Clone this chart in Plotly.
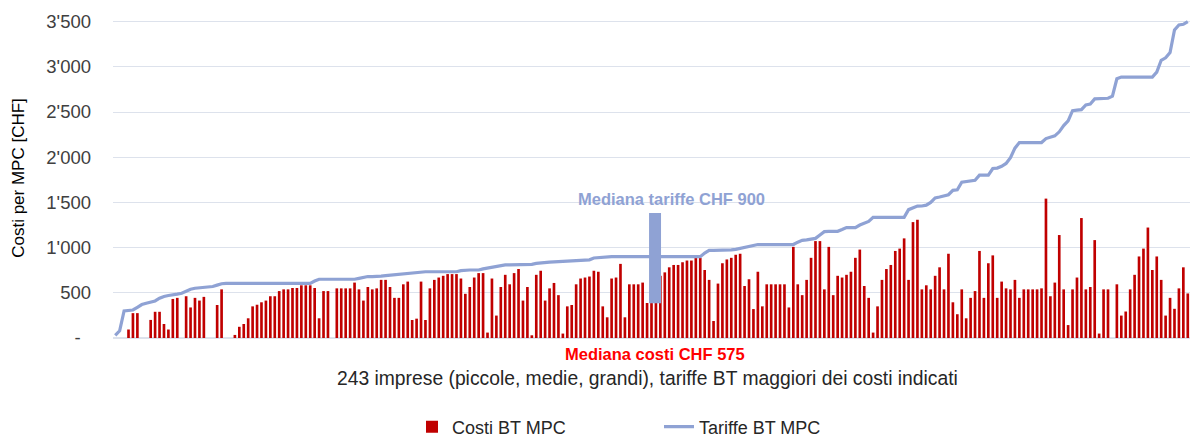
import plotly.graph_objects as go

# ---------------- data ----------------
costs = [
    0, 0, 0, 94, 275, 275, 0, 0, 200, 290, 290, 155, 94, 432, 444, 0, 462, 338, 444, 414,
    455, 0, 0, 365, 538, 0, 0, 34, 124, 155,
    218, 350, 368, 395, 414, 462, 462, 519, 538, 538, 553, 553, 583, 583, 583, 553, 218, 519, 519, 0,
    549, 549, 549, 549, 613, 538, 414, 564, 538, 549,
    643, 643, 564, 444, 444, 594, 624, 199, 214, 624, 199, 549, 643, 669, 688, 707, 707, 707, 658, 489,
    564, 669, 718, 718, 60, 658, 248, 564, 699, 594, 718,
    763, 414, 564, 30, 699, 744, 414, 549, 609, 474, 49, 350, 365, 594, 658, 669, 680, 744, 733, 350,
    229, 658, 669, 820, 229, 594, 594, 594, 613, 387, 387,
    387, 688, 726, 782, 808, 808, 838, 857, 857, 887, 887, 752, 643, 188, 602, 827, 869, 887, 921, 932,
    575, 650, 320, 733, 350, 594, 594, 594, 594, 594,
    338, 1008, 594, 474, 643, 887, 1072, 1072, 538, 1008, 474, 688, 669, 699, 733, 887, 978, 575, 444, 60,
    350, 643, 763, 808, 963, 989, 1102, 643, 1282, 1308, 538,
    583, 538, 688, 782, 538, 932, 395, 263, 538, 218, 444, 519, 963, 444, 827, 914, 444, 624, 549, 538,
    643, 444, 538, 538, 538, 538, 549, 1542, 462, 613,
    1139, 538, 143, 538, 669, 1327, 538, 564, 1083, 49, 538, 538, 0, 594, 248, 293, 538, 699, 902, 989,
    1222, 752, 902, 643, 248, 444, 323, 549, 782, 493,
]

tariffs = [
    30, 80, 300, 305, 310, 340, 370, 385, 400, 410, 440, 460, 470, 475, 485, 495, 520, 540, 550, 556,
    560, 565, 570, 585, 600, 605, 605, 605, 605, 605, 605, 605, 605, 605, 605, 605, 605, 605, 605, 605,
    605, 605, 605, 605, 605, 630, 650, 650, 650, 650, 650, 650, 650, 650, 650, 660, 670, 680, 680, 680,
    685, 690, 695, 700, 705, 707, 715, 720, 728, 733, 733, 733, 733, 733, 733, 733, 733, 733, 745, 752,
    752, 752, 752, 765, 775, 782, 790, 800, 808, 808, 808, 808, 810, 812, 815, 825, 832, 838, 840, 842,
    845, 848, 850, 852, 855, 858, 860, 865, 885, 890, 895, 898, 900, 900, 900, 900, 900, 900, 900, 900,
    900, 900, 900, 900, 900, 900, 900, 900, 900, 900, 900, 900, 900, 940, 970, 970, 970, 970, 970, 975,
    980, 990, 1005, 1015, 1025, 1034, 1034, 1034, 1034, 1034, 1034, 1034, 1034, 1034, 1060, 1080, 1085, 1095, 1102, 1140,
    1177, 1180, 1180, 1180, 1200, 1222, 1222, 1222, 1250, 1270, 1290, 1335, 1335, 1335, 1335, 1335, 1335, 1335, 1335, 1420,
    1440, 1459, 1460, 1470, 1500, 1550, 1560, 1570, 1585, 1634, 1640, 1723, 1730, 1740, 1745, 1801, 1801, 1801, 1875, 1880,
    1900, 1931, 1994, 2100, 2162, 2162, 2162, 2162, 2162, 2162, 2206, 2220, 2236, 2281, 2350, 2403, 2515, 2520, 2526, 2578,
    2589, 2645, 2648, 2650, 2652, 2675, 2868, 2887, 2887, 2887, 2887, 2887, 2887, 2887, 2887, 2942, 3072, 3100, 3158, 3407,
    3463, 3470, 3500,
]

companies = list(range(1, len(costs) + 1))

y_tick_values = [0, 500, 1000, 1500, 2000, 2500, 3000, 3500]
y_tick_labels = ["-\u00a0\u00a0", "500", "1'000", "1'500", "2'000", "2'500", "3'000", "3'500"]

median_cost = 575
median_tariff = 900
median_index = 122.8  # company position of the median marker

assert len(costs) == 243 and len(tariffs) == 243, (len(costs), len(tariffs))

# ---------------- figure ----------------
BAR_RED = "#C00000"
LINE_BLUE = "#8FA2D4"
GRID = "#DDE2EC"
FONT = "Liberation Sans, Arial, sans-serif"

fig = go.Figure()
fig.add_trace(go.Bar(
    x=companies, y=costs, name="Costi BT MPC",
    marker=dict(color=BAR_RED, line=dict(width=0)),
))
fig.add_trace(go.Scatter(
    x=companies, y=tariffs, name="Tariffe BT MPC", mode="lines",
    line=dict(color=LINE_BLUE, width=3.2),
))

# median tariff marker (vertical band)
fig.add_shape(type="rect", xref="x", yref="y",
              x0=median_index - 1.35, x1=median_index + 1.35, y0=385, y1=1383,
              fillcolor=LINE_BLUE, line=dict(width=0), layer="above")

fig.add_annotation(x=median_index + 3.6, y=1540, xref="x", yref="y",
                   text=f"<b>Mediana tariffe CHF {median_tariff}</b>", showarrow=False,
                   font=dict(family=FONT, size=16.5, color=LINE_BLUE), xanchor="center", yanchor="middle")

fig.add_annotation(x=median_index, y=-0.05, xref="x", yref="paper",
                   text=f"<b>Mediana costi CHF {median_cost}</b>", showarrow=False,
                   font=dict(family=FONT, size=16.5, color="#FF0000"), xanchor="center", yanchor="middle")

fig.add_annotation(x=0.4967, y=-0.125, xref="paper", yref="paper",
                   text="243 imprese (piccole, medie, grandi), tariffe BT maggiori dei costi indicati",
                   showarrow=False, font=dict(family=FONT, size=19.3, color="#262626"),
                   xanchor="center", yanchor="middle")

fig.update_layout(
    width=1191, height=437,
    margin=dict(l=113, r=1, t=18, b=99, autoexpand=False),
    paper_bgcolor="white", plot_bgcolor="white",
    bargap=0.4,
    showlegend=True,
    legend=dict(orientation="h", xref="container", yref="container",
                x=412 / 1191, xanchor="left", y=10 / 437, yanchor="middle",
                font=dict(family=FONT, size=18, color="#262626"),
                entrywidth=202, entrywidthmode="pixels"),
    font=dict(family=FONT),
)
fig.update_xaxes(range=[0.5, len(costs) + 0.5], showticklabels=False, showgrid=False,
                 zeroline=False, showline=False, ticks="", automargin=False)
fig.update_yaxes(range=[0, 3540], tickvals=y_tick_values, ticktext=y_tick_labels,
                 showgrid=True, gridcolor=GRID, gridwidth=1, zeroline=True, zerolinecolor=GRID,
                 tickfont=dict(family=FONT, size=18.5, color="#404040"), ticks="", ticklabelstandoff=21,
                 automargin=False,
                 title=dict(text="Costi per MPC [CHF]", font=dict(family=FONT, size=17, color="#000000"),
                            standoff=17))

# remove the browser's default 8px page margin so the figure fills the window exactly
fig.write_html("out.html", config={"displayModeBar": False},
               post_script="document.body.style.margin='0';")
